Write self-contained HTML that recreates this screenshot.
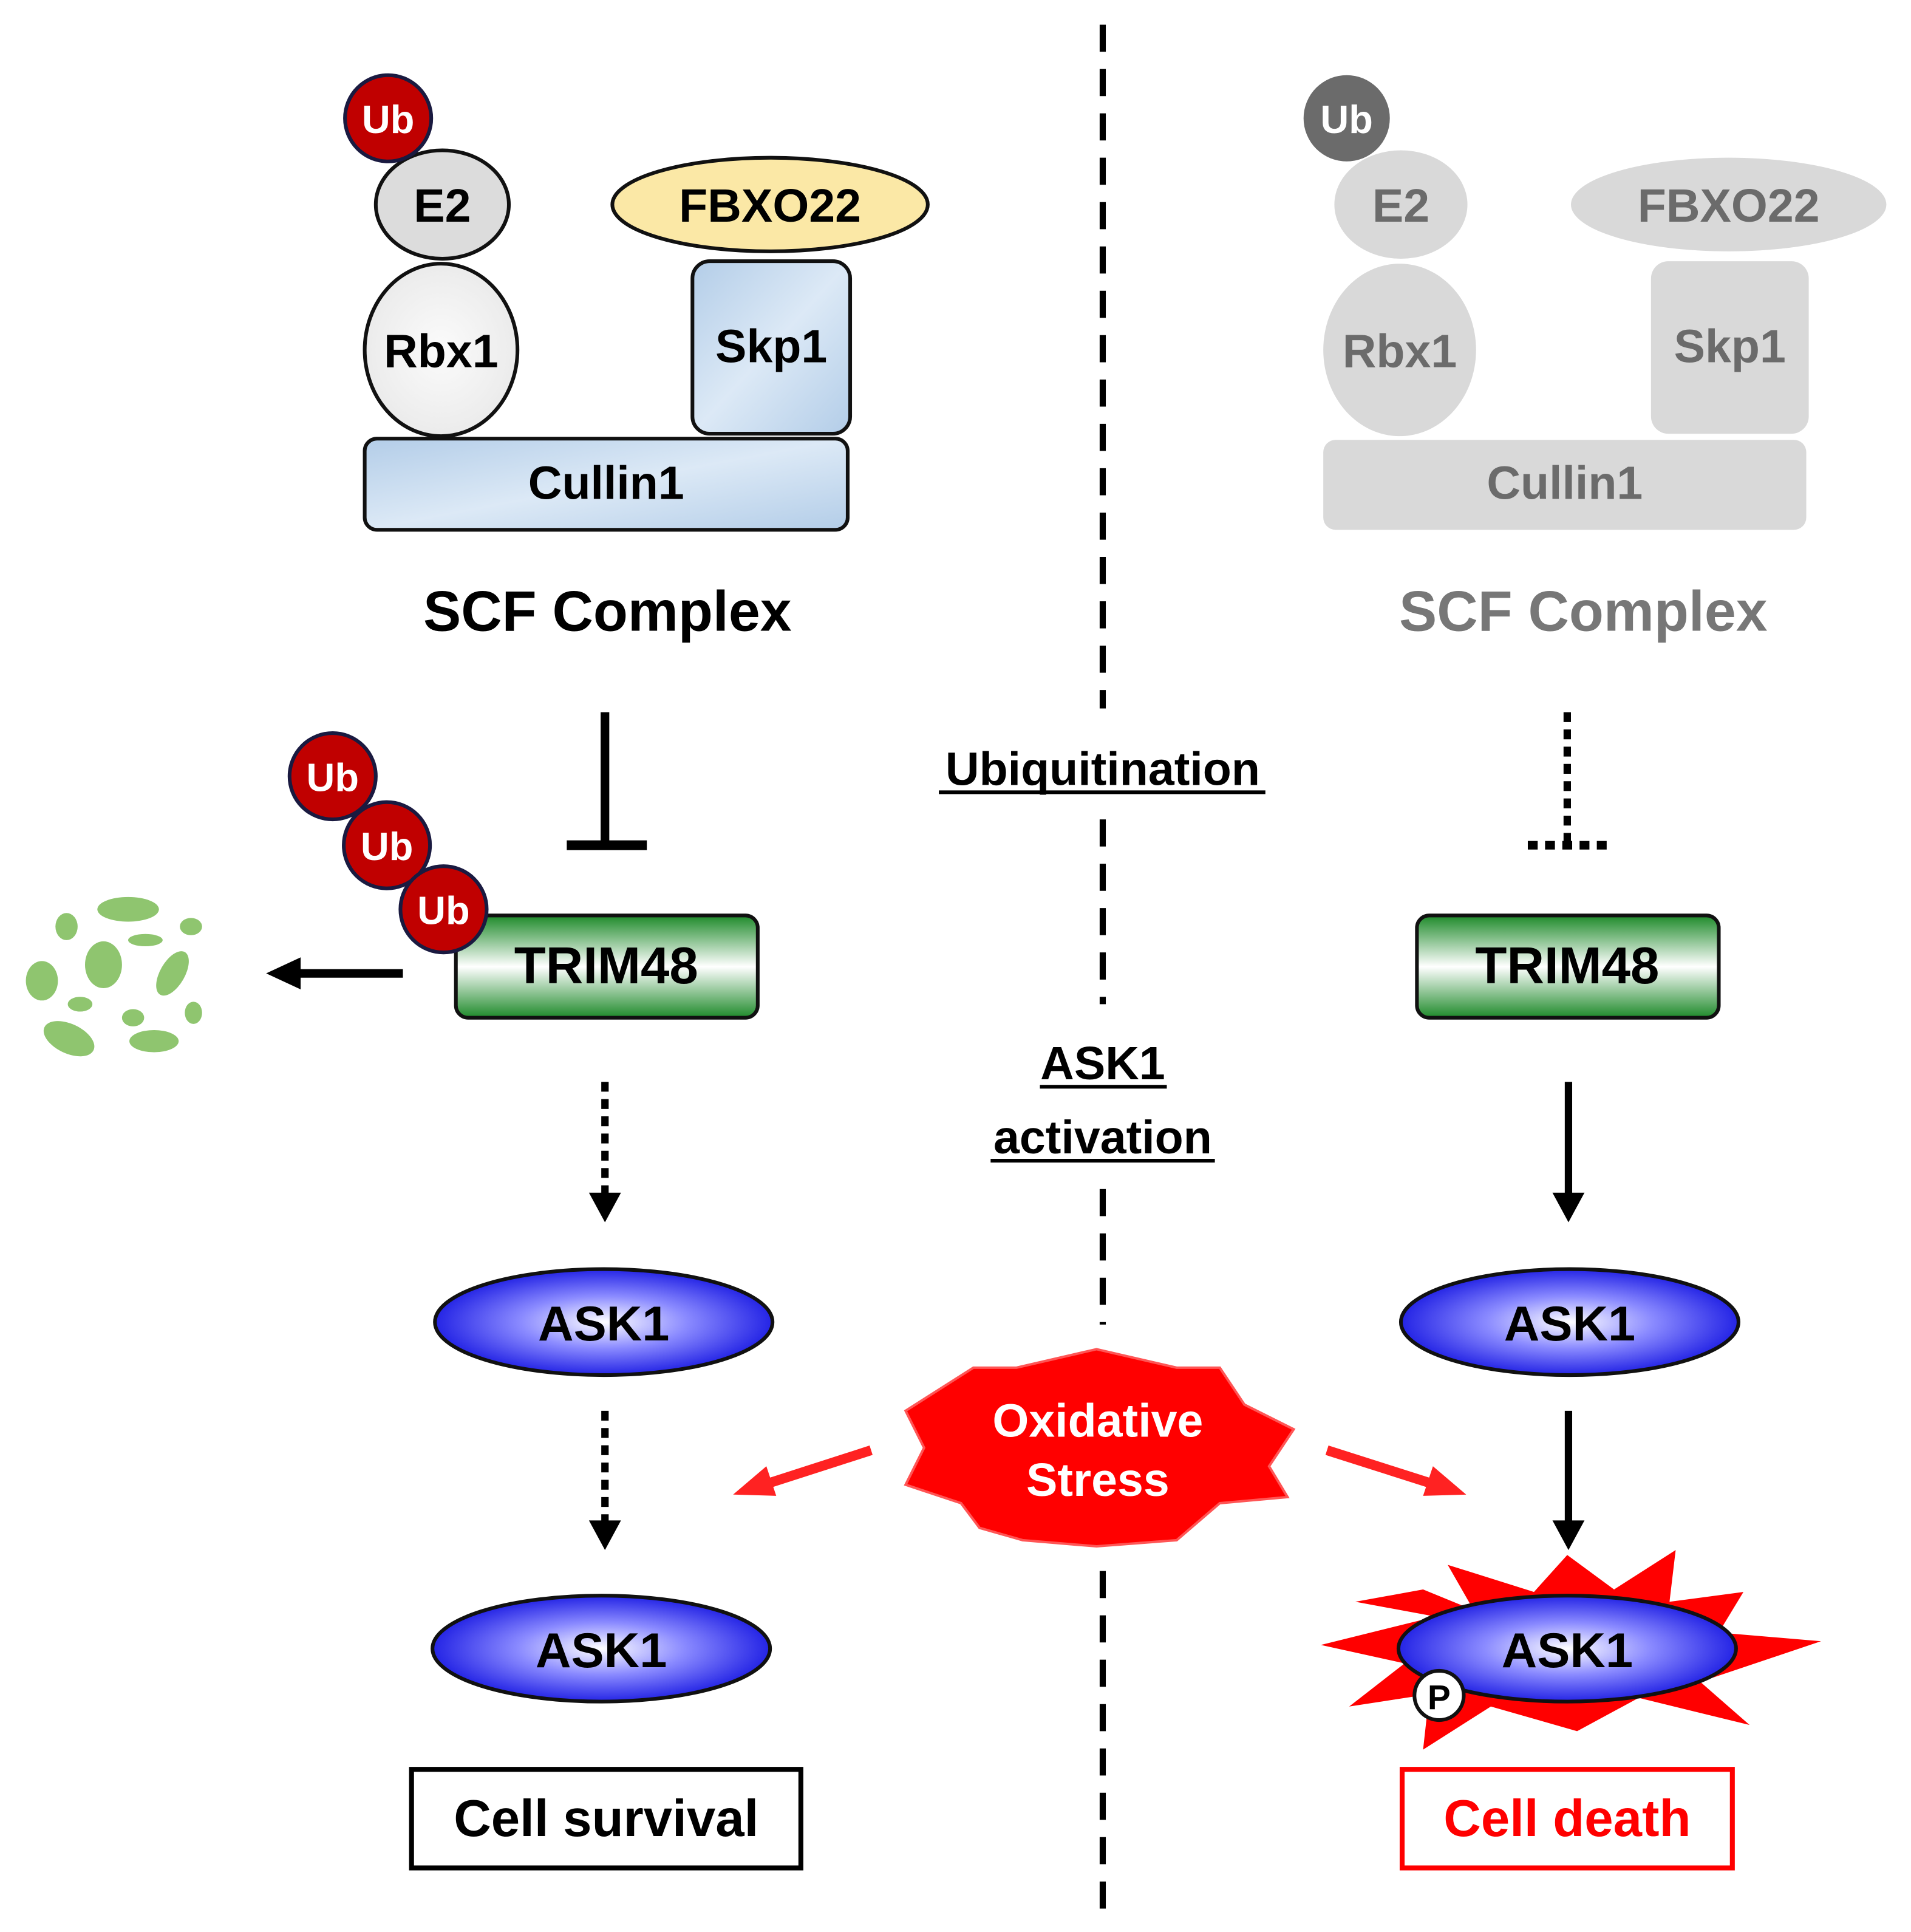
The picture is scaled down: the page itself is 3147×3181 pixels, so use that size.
<!DOCTYPE html>
<html><head><meta charset="utf-8"><style>html,body{margin:0;padding:0;background:#fff}svg{display:block}text{font-family:"Liberation Sans",Arial,sans-serif;font-weight:bold;text-anchor:middle}</style></head>
<body>
<svg width="3147" height="3181" viewBox="0 0 1551 1568" preserveAspectRatio="none" xmlns="http://www.w3.org/2000/svg">
<defs>
<linearGradient id="bl" x1="0" y1="0" x2="1" y2="1"><stop offset="0" stop-color="#b3cde8"/><stop offset="0.5" stop-color="#dce9f6"/><stop offset="1" stop-color="#b3cde8"/></linearGradient>
<linearGradient id="gr" x1="0" y1="0" x2="0" y2="1"><stop offset="0" stop-color="#1e8a2a"/><stop offset="0.5" stop-color="#ffffff"/><stop offset="1" stop-color="#1e8a2a"/></linearGradient>
<radialGradient id="bu" cx="0.5" cy="0.5" r="0.55"><stop offset="0" stop-color="#ffffff"/><stop offset="0.45" stop-color="#8a8aff"/><stop offset="1" stop-color="#1010e0"/></radialGradient>
<radialGradient id="wh" cx="0.5" cy="0.5" r="0.6"><stop offset="0" stop-color="#fbfbfb"/><stop offset="1" stop-color="#e8e8e8"/></radialGradient>
</defs>
<line x1="895" y1="20" x2="895" y2="575" stroke="#000" stroke-width="5" stroke-dasharray="22,14"/>
<line x1="895" y1="665" x2="895" y2="815" stroke="#000" stroke-width="5" stroke-dasharray="22,14"/>
<line x1="895" y1="965" x2="895" y2="1075" stroke="#000" stroke-width="5" stroke-dasharray="22,14"/>
<line x1="895" y1="1275" x2="895" y2="1550" stroke="#000" stroke-width="5" stroke-dasharray="22,14"/>
<rect x="296" y="356" width="392" height="74" rx="10" fill="url(#bl)" stroke="#111" stroke-width="3"/>
<rect x="562" y="212" width="128" height="140" rx="14" fill="url(#bl)" stroke="#111" stroke-width="3"/>
<ellipse cx="358" cy="284" rx="62" ry="70" fill="url(#wh)" stroke="#111" stroke-width="3"/>
<ellipse cx="359" cy="166" rx="54" ry="44" fill="#dcdcdc" stroke="#111" stroke-width="3"/>
<circle cx="315" cy="96" r="35" fill="#c00000" stroke="#1a1a40" stroke-width="3"/>
<ellipse cx="625" cy="166" rx="128" ry="38" fill="#fbe8a6" stroke="#111" stroke-width="3"/>
<text x="315" y="108" font-size="32" fill="#fff">Ub</text>
<text x="359" y="180" font-size="38">E2</text>
<text x="358" y="298" font-size="38">Rbx1</text>
<text x="625" y="180" font-size="38">FBXO22</text>
<text x="626" y="294" font-size="38">Skp1</text>
<text x="492" y="405" font-size="38">Cullin1</text>
<text x="493" y="512" font-size="46">SCF Complex</text>
<rect x="1074" y="357" width="392" height="73" rx="10" fill="#d9d9d9"/>
<rect x="1340" y="212" width="128" height="140" rx="14" fill="#d9d9d9"/>
<ellipse cx="1136" cy="284" rx="62" ry="70" fill="#d9d9d9"/>
<ellipse cx="1137" cy="166" rx="54" ry="44" fill="#d9d9d9"/>
<circle cx="1093" cy="96" r="35" fill="#6b6b6b"/>
<ellipse cx="1403" cy="166" rx="128" ry="38" fill="#d9d9d9"/>
<text x="1093" y="108" font-size="32" fill="#fff">Ub</text>
<g fill="#6b6b6b"><text x="1137" y="180" font-size="38">E2</text>
<text x="1136" y="298" font-size="38">Rbx1</text>
<text x="1403" y="180" font-size="38">FBXO22</text>
<text x="1404" y="294" font-size="38">Skp1</text>
<text x="1270" y="405" font-size="38">Cullin1</text></g>
<text x="1285" y="512" font-size="46" fill="#777">SCF Complex</text>
<g font-size="38"><text x="895" y="637">Ubiquitination</text>
<text x="895" y="876">ASK1</text>
<text x="895" y="936">activation</text></g>
<line x1="762" y1="643" x2="1027" y2="643" stroke="#000" stroke-width="3"/>
<line x1="844" y1="882" x2="947" y2="882" stroke="#000" stroke-width="3"/>
<line x1="804" y1="942" x2="986" y2="942" stroke="#000" stroke-width="3"/>
<line x1="491" y1="578" x2="491" y2="686" stroke="#000" stroke-width="7"/>
<line x1="460" y1="686" x2="525" y2="686" stroke="#000" stroke-width="8"/>
<rect x="370" y="743" width="245" height="83" rx="10" fill="url(#gr)" stroke="#111" stroke-width="3"/>
<text x="492" y="798" font-size="42">TRIM48</text>
<g stroke="#1a1a40" stroke-width="3" fill="#c00000">
<circle cx="270" cy="630" r="35"/><circle cx="314" cy="686" r="35"/><circle cx="360" cy="738" r="35"/></g>
<g fill="#fff" font-size="32"><text x="270" y="642">Ub</text><text x="314" y="698">Ub</text><text x="360" y="750">Ub</text></g>
<line x1="327" y1="790" x2="238" y2="790" stroke="#000" stroke-width="7"/>
<polygon points="216,790 244,777 244,803" fill="#000"/>
<g fill="#8fc56f">
<ellipse cx="104" cy="738" rx="25" ry="10"/><ellipse cx="54" cy="752" rx="9" ry="11"/><ellipse cx="155" cy="752" rx="9" ry="7"/>
<ellipse cx="84" cy="783" rx="15" ry="19"/><ellipse cx="118" cy="763" rx="14" ry="5"/><ellipse cx="140" cy="790" rx="10" ry="20" transform="rotate(30 140 790)"/>
<ellipse cx="34" cy="796" rx="13" ry="16"/><ellipse cx="65" cy="815" rx="10" ry="6"/><ellipse cx="108" cy="826" rx="9" ry="7"/>
<ellipse cx="157" cy="822" rx="7" ry="9"/><ellipse cx="56" cy="843" rx="22" ry="12" transform="rotate(25 56 843)"/><ellipse cx="125" cy="845" rx="20" ry="9"/></g>
<line x1="491" y1="878" x2="491" y2="972" stroke="#000" stroke-width="6" stroke-dasharray="8,6"/>
<polygon points="491,992 478,968 504,968" fill="#000"/>
<ellipse cx="490" cy="1073" rx="137" ry="43" fill="url(#bu)" stroke="#111" stroke-width="3"/>
<text x="490" y="1088" font-size="40">ASK1</text>
<line x1="491" y1="1145" x2="491" y2="1238" stroke="#000" stroke-width="6" stroke-dasharray="8,6"/>
<polygon points="491,1258 478,1234 504,1234" fill="#000"/>
<ellipse cx="488" cy="1338" rx="137" ry="43" fill="url(#bu)" stroke="#111" stroke-width="3"/>
<text x="488" y="1353" font-size="40">ASK1</text>
<rect x="334" y="1436" width="316" height="80" fill="#fff" stroke="#000" stroke-width="4"/>
<text x="492" y="1490" font-size="42">Cell survival</text>
<line x1="1272" y1="578" x2="1272" y2="686" stroke="#000" stroke-width="6" stroke-dasharray="8,6"/>
<line x1="1240" y1="686" x2="1304" y2="686" stroke="#000" stroke-width="7" stroke-dasharray="8,6"/>
<rect x="1150" y="743" width="245" height="83" rx="10" fill="url(#gr)" stroke="#111" stroke-width="3"/>
<text x="1272" y="798" font-size="42">TRIM48</text>
<line x1="1273" y1="878" x2="1273" y2="972" stroke="#000" stroke-width="6"/>
<polygon points="1273,992 1260,968 1286,968" fill="#000"/>
<ellipse cx="1274" cy="1073" rx="137" ry="43" fill="url(#bu)" stroke="#111" stroke-width="3"/>
<text x="1274" y="1088" font-size="40">ASK1</text>
<line x1="1273" y1="1145" x2="1273" y2="1238" stroke="#000" stroke-width="6"/>
<polygon points="1273,1258 1260,1234 1286,1234" fill="#000"/>
<polygon fill="#f00" points="1272,1338 1155,1290 1100,1300 1165,1312 1072,1335 1140,1350 1095,1385 1160,1375 1155,1420 1210,1385 1280,1405 1330,1378 1420,1400 1380,1365 1478,1332 1395,1325 1415,1292 1355,1300 1360,1258 1310,1290 1272,1262 1245,1292 1175,1270 1195,1305"/>
<ellipse cx="1272" cy="1338" rx="137" ry="43" fill="url(#bu)" stroke="#111" stroke-width="3"/>
<text x="1272" y="1353" font-size="40">ASK1</text>
<circle cx="1168" cy="1376" r="20" fill="#fff" stroke="#111" stroke-width="3"/>
<text x="1168" y="1387" font-size="28">P</text>
<rect x="1138" y="1436" width="268" height="80" fill="#fff" stroke="#f00" stroke-width="4"/>
<text x="1272" y="1490" font-size="42" fill="#f00">Cell death</text>
<polygon fill="#f00" stroke="#f55" stroke-width="2" points="890,1095 955,1110 990,1110 1010,1140 1050,1160 1030,1190 1045,1215 990,1220 955,1250 890,1255 830,1250 795,1240 780,1220 735,1205 750,1175 735,1145 790,1110 825,1110"/>
<text x="891" y="1166" font-size="38" fill="#fff">Oxidative</text>
<text x="891" y="1214" font-size="38" fill="#fff">Stress</text>
<line x1="707" y1="1177" x2="620" y2="1205" stroke="#f22" stroke-width="8"/>
<polygon points="595,1213 622,1190 630,1214" fill="#f22"/>
<line x1="1077" y1="1177" x2="1165" y2="1205" stroke="#f22" stroke-width="8"/>
<polygon points="1190,1213 1163,1190 1155,1214" fill="#f22"/>
</svg>
</body></html>
